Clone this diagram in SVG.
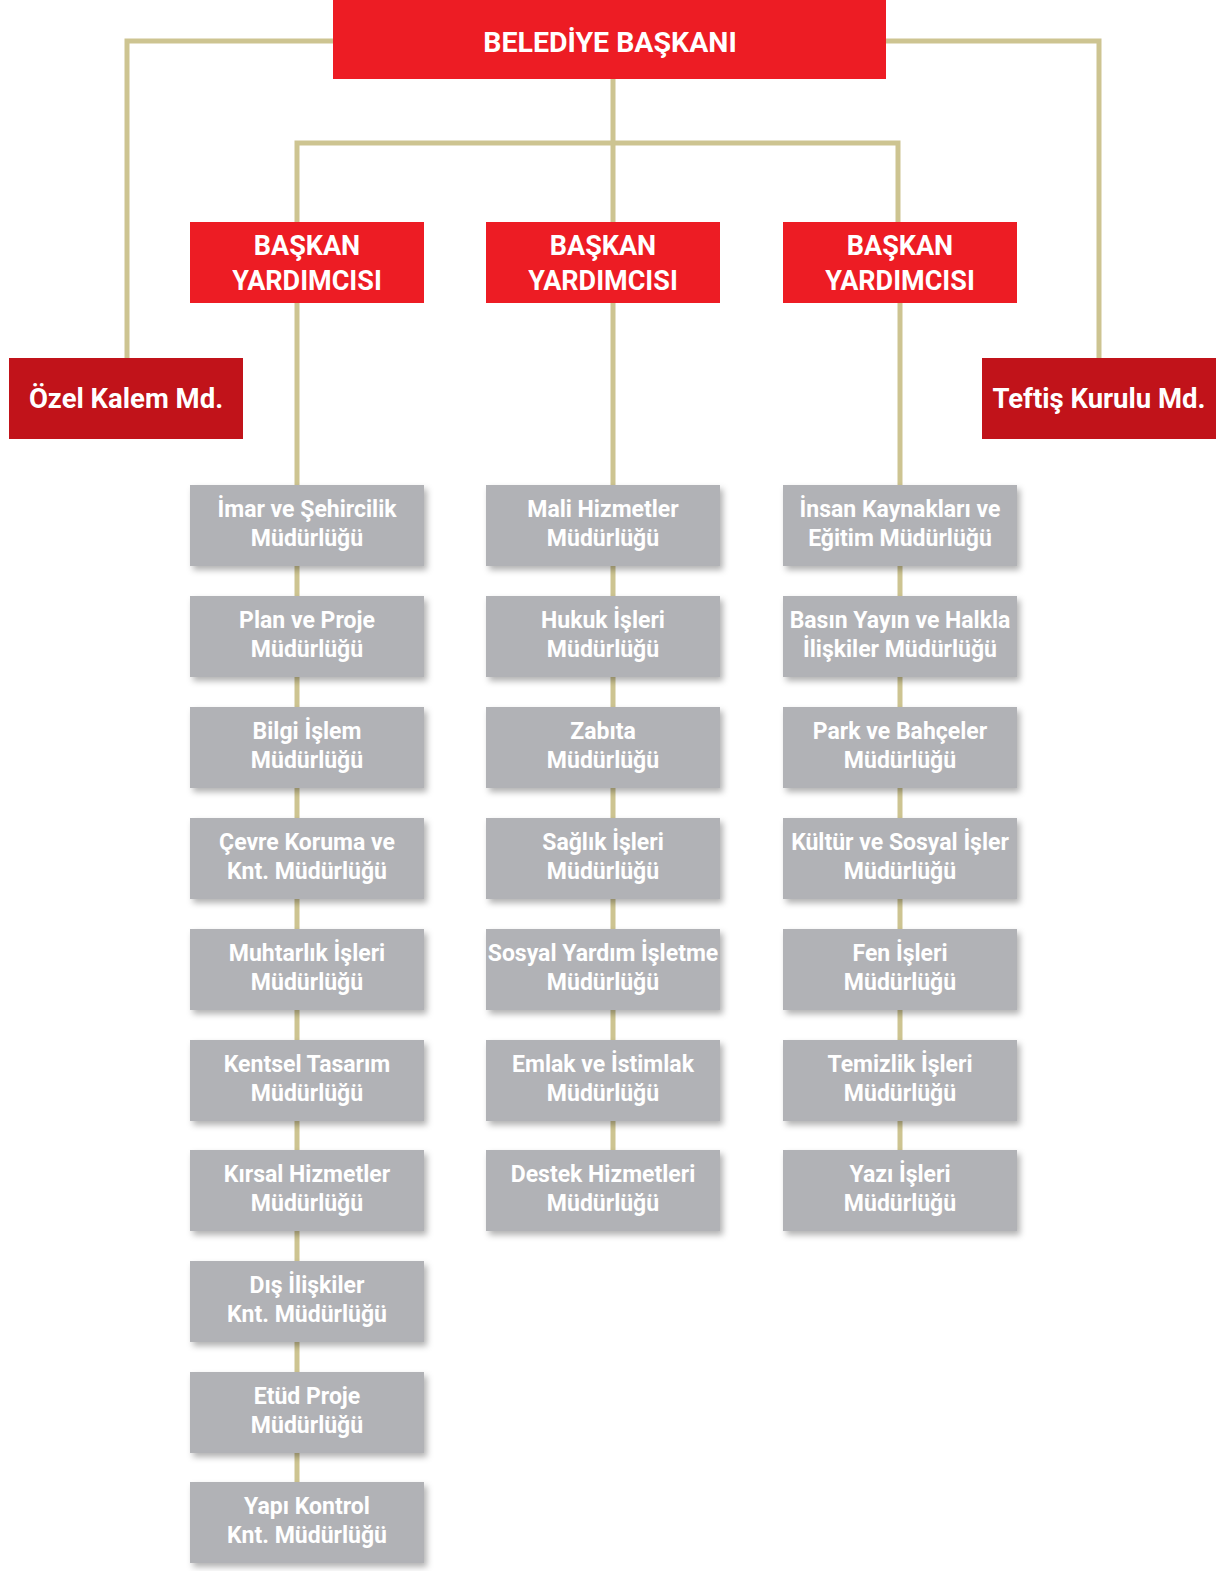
<svg xmlns="http://www.w3.org/2000/svg" width="1223" height="1571" viewBox="0 0 1223 1571">
<style>
.ln{stroke:#cdc491;stroke-width:5;fill:none}
.top{fill:#ed1c24}
.side{fill:#c1131a}
.unit{fill:#b1b2b6;filter:url(#sh)}
text{font-family:Roboto,"Liberation Sans",sans-serif;font-weight:700;fill:#fff;text-anchor:middle}
.t1{font-size:28.5px}
.t0{font-size:27.5px}
.t2{font-size:27px}
.t3{font-size:23px}
</style>
<defs>
<filter id="sh" x="-10%" y="-20%" width="130%" height="150%">
<feDropShadow dx="3" dy="4" stdDeviation="3" flood-color="#000" flood-opacity="0.3"/>
</filter>
</defs>
<g id="connectors">
<path class="ln" d="M333 41H127V358"/>
<path class="ln" d="M886 41H1099V358"/>
<path class="ln" d="M613 79V222"/>
<path class="ln" d="M297 222V143H898V222"/>
<path class="ln" d="M297 303V1482"/>
<path class="ln" d="M613 303V1150"/>
<path class="ln" d="M900 303V1150"/>
</g>
<g id="baskan"><rect class="top" x="333" y="0" width="553" height="79"/><text class="t1" x="610" y="52">BELEDİYE BAŞKANI</text></g>
<g id="vp1"><rect class="top" x="190" y="222" width="234" height="81"/><text class="t2" x="307" y="255">BAŞKAN</text><text class="t2" x="307" y="290">YARDIMCISI</text></g>
<g id="vp2"><rect class="top" x="486" y="222" width="234" height="81"/><text class="t2" x="603" y="255">BAŞKAN</text><text class="t2" x="603" y="290">YARDIMCISI</text></g>
<g id="vp3"><rect class="top" x="783" y="222" width="234" height="81"/><text class="t2" x="900" y="255">BAŞKAN</text><text class="t2" x="900" y="290">YARDIMCISI</text></g>
<g id="ozel"><rect class="side" x="9" y="358" width="234" height="81"/><text class="t0" x="126" y="408">Özel Kalem Md.</text></g>
<g id="teftis"><rect class="side" x="982" y="358" width="234" height="81"/><text class="t0" x="1099" y="408">Teftiş Kurulu Md.</text></g>

<g id="l1"><rect class="unit" x="190" y="485" width="234" height="81"/><text class="t3" x="307" y="517">İmar ve Şehircilik</text><text class="t3" x="307" y="546">Müdürlüğü</text></g>
<g id="l2"><rect class="unit" x="190" y="596" width="234" height="81"/><text class="t3" x="307" y="628">Plan ve Proje</text><text class="t3" x="307" y="657">Müdürlüğü</text></g>
<g id="l3"><rect class="unit" x="190" y="707" width="234" height="81"/><text class="t3" x="307" y="739">Bilgi İşlem</text><text class="t3" x="307" y="768">Müdürlüğü</text></g>
<g id="l4"><rect class="unit" x="190" y="818" width="234" height="81"/><text class="t3" x="307" y="850">Çevre Koruma ve</text><text class="t3" x="307" y="879">Knt. Müdürlüğü</text></g>
<g id="l5"><rect class="unit" x="190" y="929" width="234" height="81"/><text class="t3" x="307" y="961">Muhtarlık İşleri</text><text class="t3" x="307" y="990">Müdürlüğü</text></g>
<g id="l6"><rect class="unit" x="190" y="1040" width="234" height="81"/><text class="t3" x="307" y="1072">Kentsel Tasarım</text><text class="t3" x="307" y="1101">Müdürlüğü</text></g>
<g id="l7"><rect class="unit" x="190" y="1150" width="234" height="81"/><text class="t3" x="307" y="1182">Kırsal Hizmetler</text><text class="t3" x="307" y="1211">Müdürlüğü</text></g>
<g id="l8"><rect class="unit" x="190" y="1261" width="234" height="81"/><text class="t3" x="307" y="1293">Dış İlişkiler</text><text class="t3" x="307" y="1322">Knt. Müdürlüğü</text></g>
<g id="l9"><rect class="unit" x="190" y="1372" width="234" height="81"/><text class="t3" x="307" y="1404">Etüd Proje</text><text class="t3" x="307" y="1433">Müdürlüğü</text></g>
<g id="l10"><rect class="unit" x="190" y="1482" width="234" height="81"/><text class="t3" x="307" y="1514">Yapı Kontrol</text><text class="t3" x="307" y="1543">Knt. Müdürlüğü</text></g>

<g id="m1"><rect class="unit" x="486" y="485" width="234" height="81"/><text class="t3" x="603" y="517">Mali Hizmetler</text><text class="t3" x="603" y="546">Müdürlüğü</text></g>
<g id="m2"><rect class="unit" x="486" y="596" width="234" height="81"/><text class="t3" x="603" y="628">Hukuk İşleri</text><text class="t3" x="603" y="657">Müdürlüğü</text></g>
<g id="m3"><rect class="unit" x="486" y="707" width="234" height="81"/><text class="t3" x="603" y="739">Zabıta</text><text class="t3" x="603" y="768">Müdürlüğü</text></g>
<g id="m4"><rect class="unit" x="486" y="818" width="234" height="81"/><text class="t3" x="603" y="850">Sağlık İşleri</text><text class="t3" x="603" y="879">Müdürlüğü</text></g>
<g id="m5"><rect class="unit" x="486" y="929" width="234" height="81"/><text class="t3" x="603" y="961">Sosyal Yardım İşletme</text><text class="t3" x="603" y="990">Müdürlüğü</text></g>
<g id="m6"><rect class="unit" x="486" y="1040" width="234" height="81"/><text class="t3" x="603" y="1072">Emlak ve İstimlak</text><text class="t3" x="603" y="1101">Müdürlüğü</text></g>
<g id="m7"><rect class="unit" x="486" y="1150" width="234" height="81"/><text class="t3" x="603" y="1182">Destek Hizmetleri</text><text class="t3" x="603" y="1211">Müdürlüğü</text></g>

<g id="r1"><rect class="unit" x="783" y="485" width="234" height="81"/><text class="t3" x="900" y="517">İnsan Kaynakları ve</text><text class="t3" x="900" y="546">Eğitim Müdürlüğü</text></g>
<g id="r2"><rect class="unit" x="783" y="596" width="234" height="81"/><text class="t3" x="900" y="628">Basın Yayın ve Halkla</text><text class="t3" x="900" y="657">İlişkiler Müdürlüğü</text></g>
<g id="r3"><rect class="unit" x="783" y="707" width="234" height="81"/><text class="t3" x="900" y="739">Park ve Bahçeler</text><text class="t3" x="900" y="768">Müdürlüğü</text></g>
<g id="r4"><rect class="unit" x="783" y="818" width="234" height="81"/><text class="t3" x="900" y="850">Kültür ve Sosyal İşler</text><text class="t3" x="900" y="879">Müdürlüğü</text></g>
<g id="r5"><rect class="unit" x="783" y="929" width="234" height="81"/><text class="t3" x="900" y="961">Fen İşleri</text><text class="t3" x="900" y="990">Müdürlüğü</text></g>
<g id="r6"><rect class="unit" x="783" y="1040" width="234" height="81"/><text class="t3" x="900" y="1072">Temizlik İşleri</text><text class="t3" x="900" y="1101">Müdürlüğü</text></g>
<g id="r7"><rect class="unit" x="783" y="1150" width="234" height="81"/><text class="t3" x="900" y="1182">Yazı İşleri</text><text class="t3" x="900" y="1211">Müdürlüğü</text></g>
</svg>
